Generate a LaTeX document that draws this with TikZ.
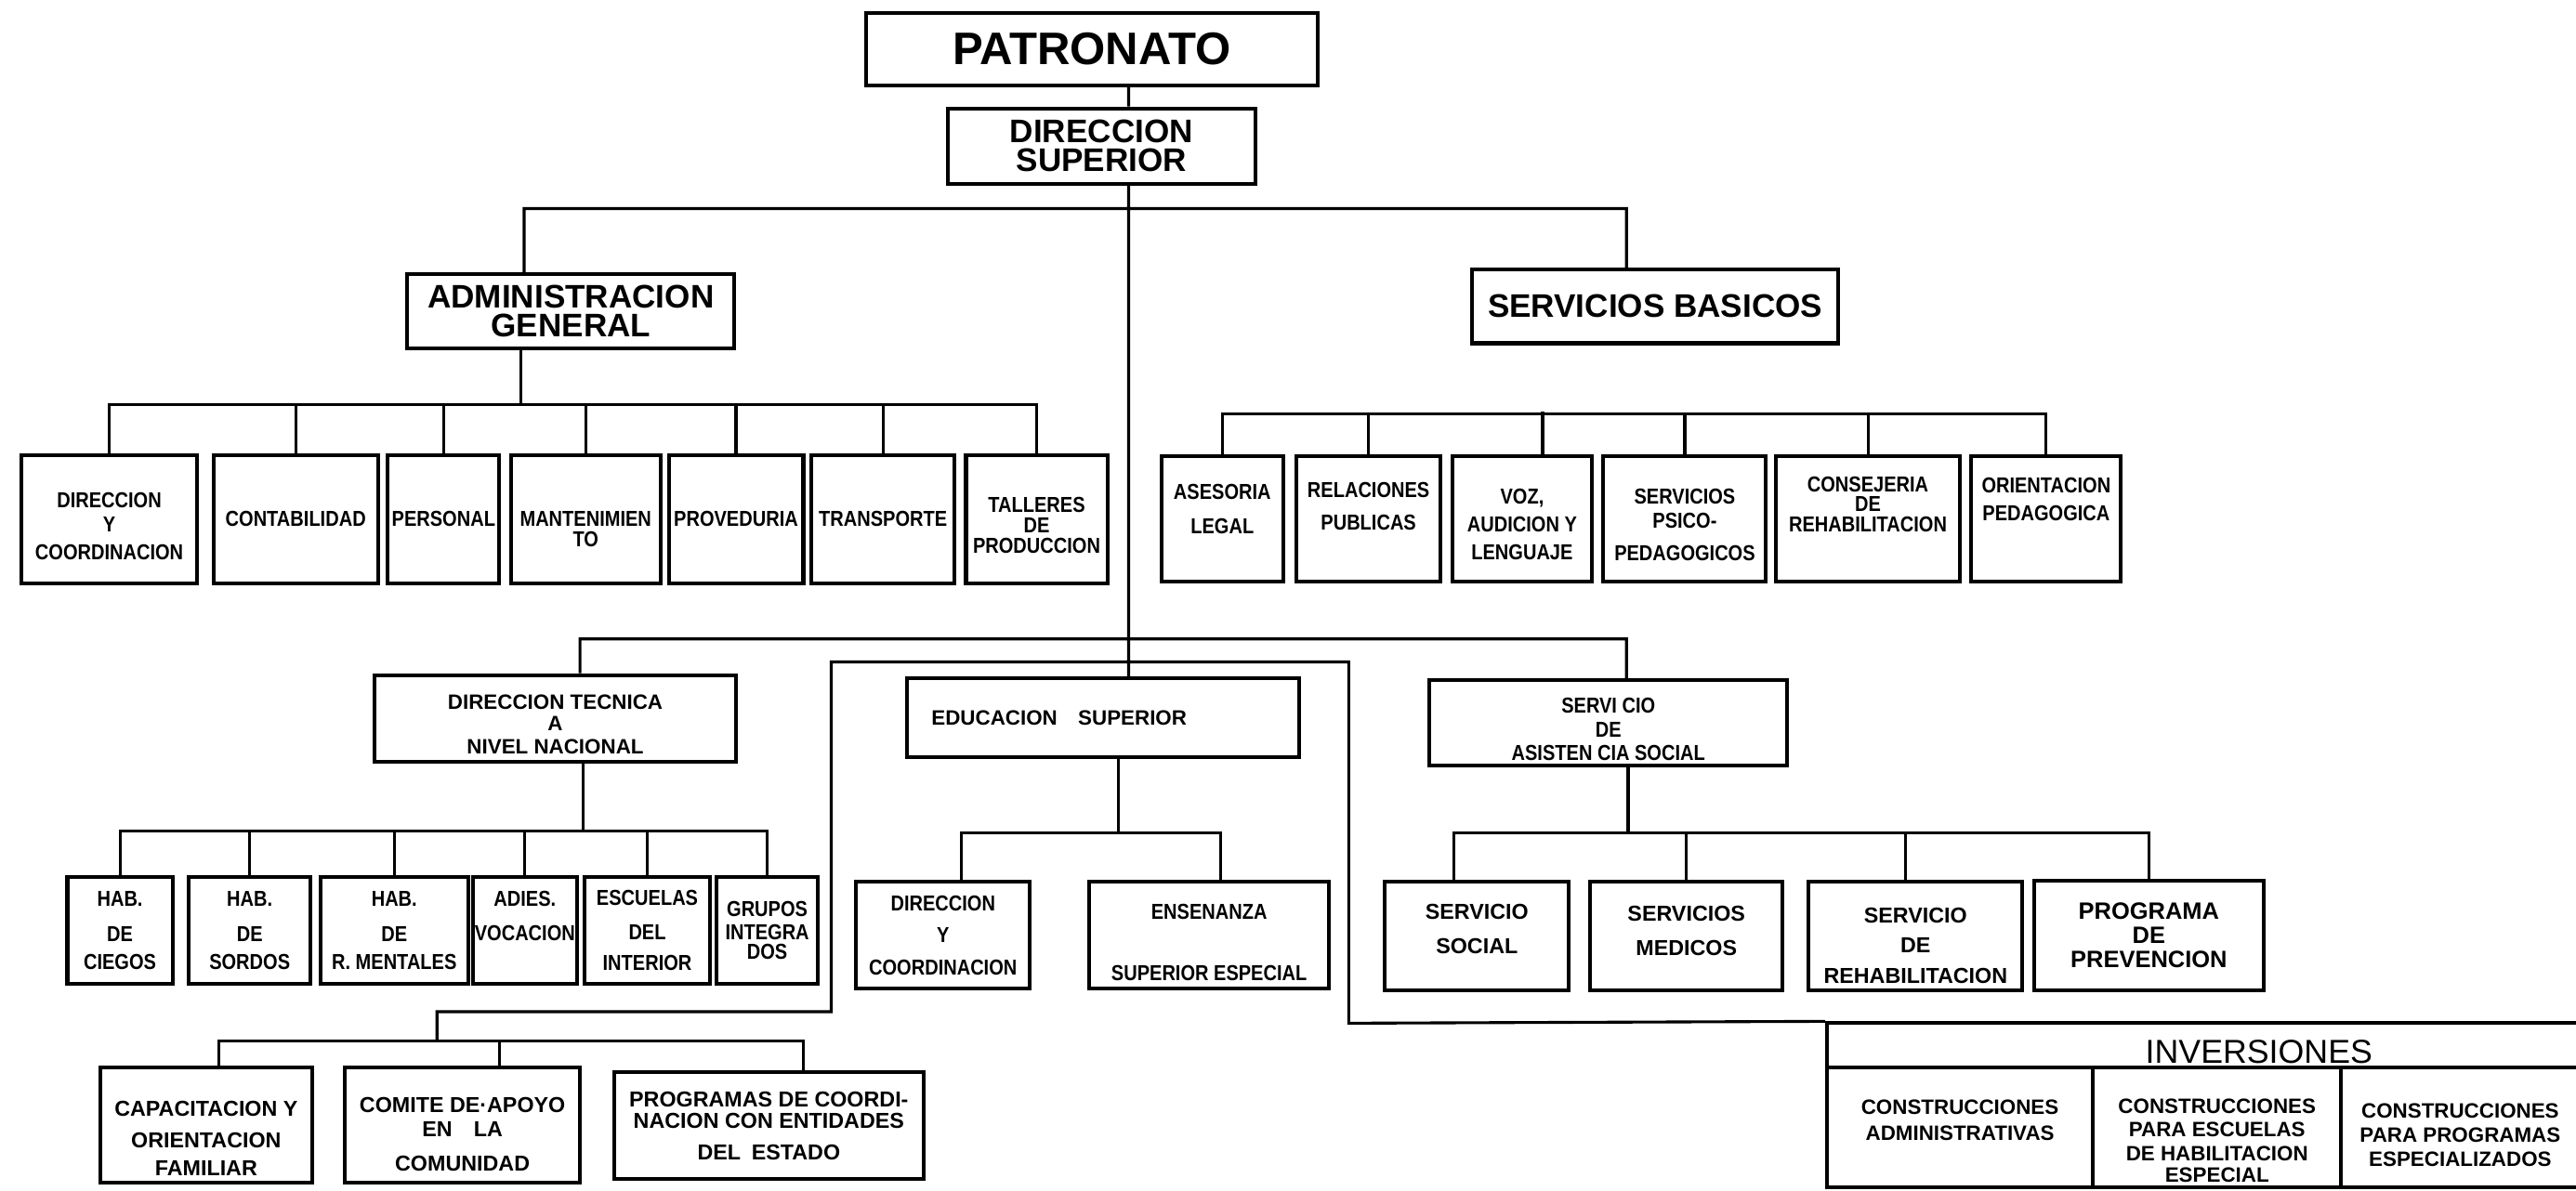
\documentclass[tikz,border=0pt]{standalone}
\usepackage{fontspec}
\setmainfont{Liberation Sans}
\newfontfamily\orgnarrow{Liberation Sans}[FakeStretch=0.86]
\newcommand\orgunit{\orgnarrow\bfseries\fontsize{7.5}{8.3}\selectfont}
\newcommand\orgwide{\bfseries\fontsize{7.5}{8.3}\selectfont}
\newcommand\orghead{\bfseries\fontsize{11.3}{10}\selectfont}
\tikzset{
	unit/.style = {draw, line width = 1.3pt, inner sep = 0pt, align = center, font = \orgunit},
	head/.style = {unit, font = \orghead},
	sz/.style n args = {2}{minimum width = #1*0.2mm, minimum height = #2*0.2mm},
	link/.style = {line width = 1pt},
	lift/.style = {text depth = #1},
	drop/.style = {text height = #1}
}

\begin{document}
\begin{tikzpicture}[x = 0.2mm, y = -0.2mm]%organigrama
	\useasboundingbox (0,0) rectangle (1568,725);
	\fill[white] (0,0) rectangle (1568,725);
	\clip (0,0) rectangle (1568,725);
	% cabeza
	\node[head, font = {\bfseries\fontsize{15.8}{16}\selectfont}, sz = {275}{44}] (pat) at (664.5,30) {PATRONATO};
	\node[head, sz = {187}{46}] (ds) at (670.5,89) {DIRECCION\\SUPERIOR};
	\node[head, sz = {199}{45}] (ag) at (347.5,189.5) {ADMINISTRACION\\GENERAL};
	\node[head, sz = {223}{45}] (sb) at (1007.5,186.5) {SERVICIOS BASICOS};
	% administracion general
	\node[unit, sz = {107}{78}, drop = 28.6pt] (agDir) at (66.5,316) {DIRECCION\\Y\\[1.5pt]COORDINACION};
	\node[unit, sz = {100}{78}] (agCon) at (180,316) {CONTABILIDAD};
	\node[unit, sz = {68}{78}] (agPer) at (270,316) {PERSONAL};
	\node[unit, sz = {91}{78}, drop = 19.3pt] (agMan) at (356.5,316) {MANTENIMIEN\\[-1.2pt]TO};
	\node[unit, sz = {82}{78}] (agPro) at (448,316) {PROVEDURIA};
	\node[unit, sz = {87}{78}] (agTra) at (537.5,316) {TRANSPORTE};
	\node[unit, sz = {86}{78}, drop = 23.6pt] (agTal) at (631,316) {TALLERES\\[-1.2pt]DE\\[-1.2pt]PRODUCCION};
	% servicios basicos
	\node[unit, sz = {74}{76}, lift = 2.4mm] (sbAse) at (744,316) {ASESORIA\\[3.7pt]LEGAL};
	\node[unit, sz = {88}{76}, lift = 3.2mm] (sbRel) at (833,316) {RELACIONES\\[3pt]PUBLICAS};
	\node[unit, sz = {85}{76}, drop = 28.2pt] (sbVoz) at (926.5,316) {VOZ,\\[1.4pt]AUDICION Y\\[1.4pt]LENGUAJE};
	\node[unit, sz = {99}{76}, drop = 29pt] (sbPsi) at (1025.5,316) {SERVICIOS\\PSICO-\\[3pt]PEDAGOGICOS};
	\node[unit, sz = {112}{76}, lift = 3.6mm] (sbCon) at (1137,316) {CONSEJERIA\\[-1.5pt]DE\\[-1.5pt]REHABILITACION};
	\node[unit, sz = {91}{76}, lift = 4.8mm] (sbOri) at (1245.5,316) {ORIENTACION\\[1.4pt]PEDAGOGICA};
	% nivel tecnico
	\node[unit, font = {\orgwide\fontsize{7.2}{8.3}\selectfont}, sz = {220}{53}, drop = 24.8pt] (dtnn) at (338,437.5) {DIRECCION TECNICA\\[-1pt]A\\NIVEL NACIONAL};
	\node[unit, font = {\orgwide\fontsize{7.2}{8.3}\selectfont}, sz = {239}{48}, text width = 41.8mm, align = left] (edu) at (671.5,437) {EDUCACION\quad SUPERIOR};
	\node[unit, sz = {218}{52}, drop = 26.5pt] (sas) at (979,440) {SERVI CIO\\DE\\ASISTEN CIA SOCIAL};
	\node[unit, sz = {64}{65}] (dtC) at (73,566.5) {HAB.\\[4pt]DE\\[1.4pt]CIEGOS};
	\node[unit, sz = {74}{65}] (dtS) at (152,566.5) {HAB.\\[4pt]DE\\[1.4pt]SORDOS};
	\node[unit, sz = {90}{65}] (dtR) at (240,566.5) {HAB.\\[4pt]DE\\[1.4pt]R. MENTALES};
	\node[unit, sz = {63}{65}, lift = 3.6mm] (dtA) at (319.5,566.5) {ADIES.\\[3.7pt]VOCACION};
	\node[unit, sz = {76}{65}] (dtE) at (394,566.5) {ESCUELAS\\[3.7pt]DEL\\[2.5pt]INTERIOR};
	\node[unit, sz = {62}{65}] (dtG) at (467,566.5) {GRUPOS\\INTEGRA\\[-1.5pt]DOS};
	\node[unit, sz = {106}{65}] (esDir) at (574,569.5) {DIRECCION\\[2.8pt]Y\\[2.8pt]COORDINACION};
	\node[unit, sz = {146}{65}, drop = 31.1pt] (esEns) at (736,569.5) {ENSENANZA\\[12.8pt]SUPERIOR ESPECIAL};
	\node[unit, font = \orgwide, sz = {112}{66}, lift = 1.8mm] (saSoc) at (899,570) {SERVICIO\\[3.7pt]SOCIAL};
	\node[unit, font = \orgwide, sz = {117}{66}, lift = 1.4mm] (saMed) at (1026.5,570) {SERVICIOS\\[3.7pt]MEDICOS};
	\node[unit, font = \orgwide, sz = {130}{66}, drop = 32.7pt] (saReh) at (1166,570) {SERVICIO\\[2.2pt]DE\\[2.2pt]REHABILITACION};
	\node[unit, font = {\orgwide\fontsize{8.2}{8.3}\selectfont}, sz = {140}{67}] (saPre) at (1308,569.5) {PROGRAMA\\DE\\PREVENCION};
	\node[unit, font = \orgwide, sz = {129}{70}, drop = 35pt] (caFam) at (125.5,685) {CAPACITACION Y\\[2.5pt]ORIENTACION\\[1.4pt]FAMILIAR};
	\node[unit, font = \orgwide, sz = {143}{70}, drop = 32pt] (coApo) at (281.5,685) {COMITE DE·APOYO\\EN\quad LA\\[3.7pt]COMUNIDAD};
	\node[unit, font = \orgwide, sz = {188}{65}] (prCoo) at (468,685.5) {PROGRAMAS DE COORDI-\\[-0.8pt]NACION CON ENTIDADES\\[2.8pt]DEL\enspace ESTADO};
	% inversiones
	\node[unit, font = {\fontsize{11.5}{12}\selectfont}, sz = {526}{27}, drop = 12.4pt] (inv) at (1375,636.5) {INVERSIONES};
	\node[unit, font = {\orgwide\fontsize{7.2}{8.3}\selectfont}, sz = {162}{73}, lift = 1.8mm] (invAdm) at (1193,686.5) {CONSTRUCCIONES\\[0.8pt]ADMINISTRATIVAS};
	\node[unit, font = {\orgwide\fontsize{7.2}{8.3}\selectfont}, sz = {151}{73}, drop = 38pt] (invEsc) at (1349.5,686.5) {CONSTRUCCIONES\\PARA ESCUELAS\\DE HABILITACION\\[-0.9pt]ESPECIAL};
	\node[unit, font = {\orgwide\fontsize{7.2}{8.3}\selectfont}, sz = {145}{73}, drop = 26.9pt] (invPro) at (1497.5,686.5) {CONSTRUCCIONES\\PARA PROGRAMAS\\ESPECIALIZADOS};
	% lineas
	\coordinate (xTrunk) at (687,0);
	\coordinate (jTop) at (687,127);
	\coordinate (jMid) at (687,389);
	\coordinate (jLow) at (687,403);
	\coordinate (jCom) at (266,634);
	\coordinate (jSB) at (1025,252);
	\draw[link]
	(pat.south -| xTrunk) -- (ds.north -| xTrunk)
	(ds.south -| xTrunk) -- (edu.north -| xTrunk)
	([xshift = -5.7mm]ag.north) |- (jTop) -| ([xshift = -3.5mm]sb.north)
	([xshift = 3mm]dtnn.north) |- (jMid) -| ([xshift = 2.2mm]sas.north)
	(jLow) -| ++(-181,213) -| (jCom)
	(jLow) -| ++(134,220) -- (inv.north west);
	\draw[link]
	([xshift = -6.1mm]ag.south) -- ++(0,33) coordinate (jAG)
	(jAG) -| (agDir.north) (jAG) -| (agCon.north) (jAG) -| (agPer.north) (jAG) -| (agMan.north)
	(jAG) -| (agPro.north) (jAG) -| (agTra.north) (jAG) -| (agTal.north);
	\draw[link]
	(sbAse.north) |- (jSB) -| (sbOri.north)
	(sbRel.north) -- (sbRel.north |- jSB)
	([xshift = 2.5mm]sbVoz.north) -- ++(0,-26)
	(sbPsi.north) -- (sbPsi.north |- jSB)
	(sbCon.north) -- (sbCon.north |- jSB);
	\draw[link]
	([xshift = 3.4mm]dtnn.south) -- ++(0,41) coordinate (jDT)
	(jDT) -| (dtC.north) (jDT) -| (dtS.north) (jDT) -| (dtR.north)
	(jDT) -| (dtA.north) (jDT) -| (dtE.north) (jDT) -| (dtG.north);
	\draw[link]
	([xshift = 1.9mm]edu.south) -- ++(0,45) coordinate (jES)
	(jES) -| ([xshift = 2.2mm]esDir.north) (jES) -| ([xshift = 1.4mm]esEns.north);
	\draw[link]
	([xshift = 2.4mm]sas.south) -- ++(0,40) coordinate (jSA)
	(jSA) -| ([xshift = -2.8mm]saSoc.north) (jSA) -| (saMed.north)
	(jSA) -| ([xshift = -1.2mm]saReh.north) (jSA) -| (saPre.north);
	\draw[link]
	(jCom) -| ([xshift = 1.5mm]caFam.north) (jCom) -| ([xshift = 4.5mm]coApo.north)
	(jCom) -| ([xshift = 4.2mm]prCoo.north);
\end{tikzpicture}
\end{document}
